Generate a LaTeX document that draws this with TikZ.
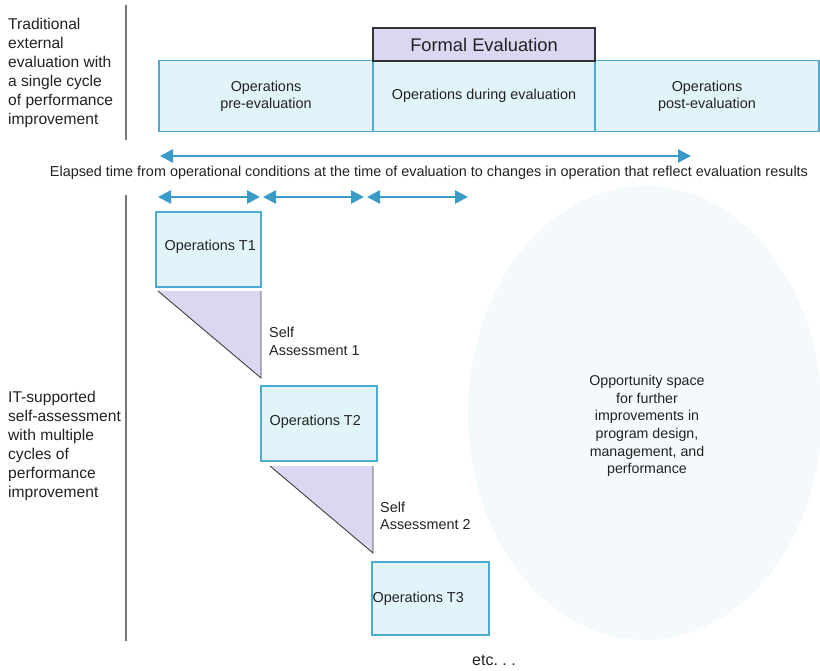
\documentclass[tikz,border=0pt]{standalone}
\usepackage{fontspec}
\setmainfont{Liberation Sans}
\usetikzlibrary{arrows.meta,shapes.geometric}
\definecolor{boxfill}{HTML}{E1F4F9}
\definecolor{boxline}{HTML}{4DAAD3}
\definecolor{arrowc}{HTML}{3A9BC9}
\definecolor{lav}{HTML}{DCD6F2}
\definecolor{ellfill}{HTML}{F4FAFC}
\definecolor{txt}{HTML}{222222}
\definecolor{sep}{HTML}{777777}
\begin{document}
\begin{tikzpicture}[x=1pt,y=-1pt,
  opbox/.style={draw=boxline, fill=boxfill, line width=1.3pt, inner sep=0pt, align=center, text=txt, font=\fontsize{14.4}{17}\selectfont},
  formalbox/.style={draw=black!80, fill=lav, line width=1.1pt, inner sep=0pt, text=txt, font=\fontsize{18.3}{20}\selectfont},
  lbl/.style={inner sep=0pt, text=txt, align=left, font=\fontsize{14.4}{17.5}\selectfont},
  sidelbl/.style={inner sep=0pt, text=txt, align=left, anchor=north west, font=\fontsize{15.6}{19}\selectfont},
  arr/.style={draw=arrowc, line width=2.6pt, {Triangle[length=13pt,width=13pt]}-{Triangle[length=13pt,width=13pt]}},
  trifill/.style={fill=lav},
  triline/.style={draw=black!75, line width=0.9pt},
  sepline/.style={draw=sep, line width=1.6pt}
]
\useasboundingbox (0,0) rectangle (820,671);

% opportunity ellipse
\node[ellipse, fill=ellfill, minimum width=354, minimum height=454, inner sep=0pt] (opp) at (645,413) {};
\node[inner sep=0pt, text=txt, align=center, font=\fontsize{14.2}{17.6}\selectfont] (opptxt) at (647,426)
  {Opportunity space\\for further\\improvements in\\program design,\\management, and\\performance};

% side labels and separators
\node[sidelbl] (lab1) at (8,18) {Traditional\\external\\evaluation with\\a single cycle\\of performance\\improvement};
\node[sidelbl] (lab2) at (8,391) {IT-supported\\self-assessment\\with multiple\\cycles of\\performance\\improvement};
\draw[sepline] (126,5) -- (126,140);
\draw[sepline] (126,195) -- (126,641);

% top row
\node[opbox, minimum width=214, minimum height=71] (pre) at (266,96) {Operations\\pre-evaluation};
\node[opbox, minimum width=222, minimum height=71] (during) at (484,96) {Operations during evaluation};
\node[opbox, minimum width=224, minimum height=71] (post) at (707,96) {Operations\\post-evaluation};
\node[formalbox, minimum width=222, minimum height=33] (formal) at (484,44.5) {Formal Evaluation};

% elapsed time arrow
\coordinate (e1) at (160,156);
\coordinate (e2) at (691,156);
\draw[arr] (e1) -- (e2);
\node[lbl] (cap) at (429,173) {Elapsed time from operational conditions at the time of evaluation to changes in operation that reflect evaluation results};

% short arrows
\coordinate (a1) at (158,197);
\coordinate (a2) at (260,197);
\coordinate (b1) at (263,197);
\coordinate (b2) at (364,197);
\coordinate (c1) at (367,197);
\coordinate (c2) at (468,197);
\draw[arr] (a1) -- (a2);
\draw[arr] (b1) -- (b2);
\draw[arr] (c1) -- (c2);

% operations boxes
\node[opbox, minimum width=105, minimum height=75] (t1) at (208.5,249.5) {};
\node[lbl, anchor=west] (t1txt) at ([xshift=9,yshift=3]t1.west) {Operations T1};
\node[opbox, minimum width=116, minimum height=75] (t2) at (319,423.5) {};
\node[lbl, anchor=west] (t2txt) at ([xshift=9,yshift=2]t2.west) {Operations T2};
\node[opbox, minimum width=117, minimum height=73] (t3) at (430.5,598.5) {};
\node[lbl, anchor=west] (t3txt) at ([xshift=1]t3.west) {Operations T3};

% self assessment triangles
\coordinate (s1a) at (158,291);
\coordinate (s1b) at (261,291);
\coordinate (s1c) at (261,378);
\fill[trifill] (s1a) -- (s1b) -- (s1c) -- cycle;
\draw[triline] (s1a) -- (s1c) -- (s1b);
\node[lbl, anchor=west] (sa1) at (269,341.5) {Self\\Assessment 1};

\coordinate (s2a) at (270,466);
\coordinate (s2b) at (373,466);
\coordinate (s2c) at (373,553);
\fill[trifill] (s2a) -- (s2b) -- (s2c) -- cycle;
\draw[triline] (s2a) -- (s2c) -- (s2b);
\node[lbl, anchor=west] (sa2) at (380,516) {Self\\Assessment 2};

\node[inner sep=0pt, text=txt, font=\fontsize{16}{17}\selectfont] (etc) at (494,660) {etc.\ .\ .};
\end{tikzpicture}
\end{document}
